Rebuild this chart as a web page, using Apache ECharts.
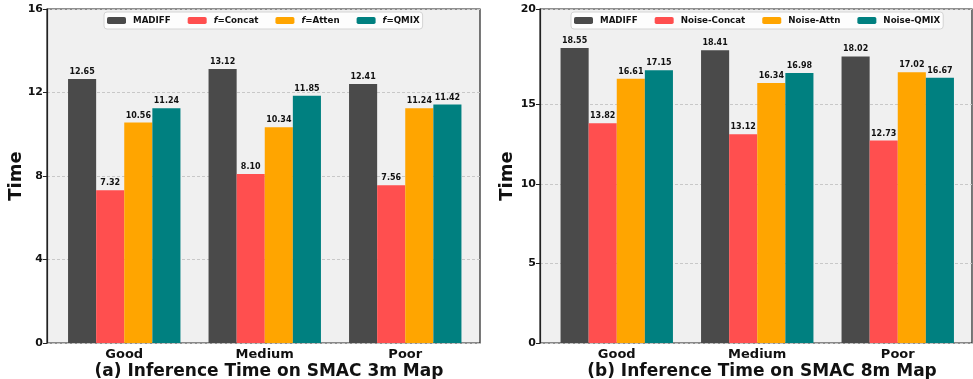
<!DOCTYPE html>
<html><head><meta charset="utf-8">
<script src="https://cdn.jsdelivr.net/npm/echarts@6/dist/echarts.min.js"></script>
<style>html,body{margin:0;padding:0;background:#fff}#c{width:973px;height:379px}</style>
</head><body><div id="c"></div>
<script>
const categories = ['Good', 'Medium', 'Poor'];
const namesA = ['MADIFF', 'f=Concat', 'f=Atten', 'f=QMIX'];
const namesB = ['MADIFF', 'Noise-Concat', 'Noise-Attn', 'Noise-QMIX'];
const a_madiff = [12.65, 13.12, 12.41];
const a_concat = [7.32, 8.10, 7.56];
const a_atten = [10.56, 10.34, 11.24];
const a_qmix = [11.24, 11.85, 11.42];
const b_madiff = [18.55, 18.41, 18.02];
const b_concat = [13.82, 13.12, 12.73];
const b_attn = [16.61, 16.34, 17.02];
const b_qmix = [17.15, 16.98, 16.67];
const yTicksA = [0, 4, 8, 12, 16];
const yLabelsA = ['0', '4', '8', '12', '16'];
const yMaxA = 16;
// right panel: axis runs to 21, the top tick is labelled "20" in the original
const yTicksB = [0, 5, 10, 15, 21];
const yLabelsB = ['0', '5', '10', '15', '20'];
const yMaxB = 21;
const colors = ['#4a4a4a', '#ff4f4f', '#ffa500', '#008080'];
const FONT = 'DejaVu Sans';

const chart = echarts.init(document.getElementById('c'));
const grids = [
  {left: 47, top: 9, width: 433, height: 334, show: true, backgroundColor: '#f0f0f0', borderColor: '#222', borderWidth: 1.2},
  {left: 54, top: 9, width: 421.5, height: 334},
  {left: 540, top: 9, width: 432, height: 334, show: true, backgroundColor: '#f0f0f0', borderColor: '#222', borderWidth: 1.2},
  {left: 546.5, top: 9, width: 421.5, height: 334}
];
function mkSeries(names, datas, gi, suffix) {
  return datas.map((d, i) => ({
    type: 'bar', name: names[i] + (suffix && i === 0 ? ' ' : ''), xAxisIndex: gi, yAxisIndex: gi,
    data: d, barGap: '0%', barCategoryGap: '20%',
    itemStyle: {color: colors[i]},
    label: {show: true, position: 'top', distance: 3, formatter: p => p.value.toFixed(2),
      fontFamily: FONT, fontWeight: 'bold', fontSize: 8, color: '#111'}
  }));
}
const FS = 8.7;
const legendBase = {
  top: 12, itemWidth: 19, itemHeight: 7, itemGap: 17,
  backgroundColor: 'rgba(255,255,255,0.85)', borderColor: '#d4d4d4', borderWidth: 1, borderRadius: 3,
  padding: [4, 3, 4, 3],
  textStyle: {fontFamily: FONT, fontWeight: 'bold', fontSize: FS, color: '#111', padding: [0, 0, 0, 2],
    rich: {i: {fontStyle: 'italic', fontWeight: 'bold', fontFamily: FONT, fontSize: FS, color: '#111'},
           b: {fontWeight: 'bold', fontFamily: FONT, fontSize: FS, color: '#111'}}}
};
function xOuter(gi) {
  return {type: 'value', gridIndex: gi, show: false, min: 0, max: 1};
}
function xInner(gi) {
  return {type: 'category', gridIndex: gi, data: categories,
    axisLine: {show: false}, axisTick: {show: false},
    axisLabel: {fontFamily: FONT, fontWeight: 'bold', fontSize: 13, color: '#111', margin: 5}};
}
function yOuter(gi, ticks, labels, max, gap) {
  return {type: 'value', gridIndex: gi, min: 0, max: max,
    name: 'Time', nameLocation: 'middle', nameGap: gap, nameMoveOverlap: false,
    nameTextStyle: {fontFamily: FONT, fontWeight: 'bold', fontSize: 18, color: '#111'},
    axisLine: {show: true, lineStyle: {color: '#222', width: 1.2}},
    axisTick: {show: true, length: 4, lineStyle: {color: '#222'}, customValues: ticks},
    axisLabel: {fontFamily: FONT, fontWeight: 'bold', fontSize: 11, color: '#111', margin: 4,
      customValues: ticks, formatter: v => labels[ticks.indexOf(v)]},
    splitLine: {show: true, lineStyle: {color: '#c8c8c8', type: [3, 2], width: 1}}};
}
function yInner(gi, max) {
  return {type: 'value', gridIndex: gi, min: 0, max: max, show: false, splitLine: {show: false}};
}
chart.setOption({
  animation: false,
  textStyle: {fontFamily: FONT},
  grid: grids,
  title: [
    {text: '(a) Inference Time on SMAC 3m Map', left: 264, top: 358, textAlign: 'center',
      textStyle: {fontFamily: FONT, fontWeight: 'bold', fontSize: 17, color: '#111'}},
    {text: '(b) Inference Time on SMAC 8m Map', left: 757, top: 358, textAlign: 'center',
      textStyle: {fontFamily: FONT, fontWeight: 'bold', fontSize: 17, color: '#111'}}
  ],
  legend: [
    Object.assign({}, legendBase, {left: 104, data: namesA,
      formatter: n => n.startsWith('f=') ? '{i|f}{b|' + n.slice(1) + '}' : n}),
    Object.assign({}, legendBase, {left: 571, data: namesB.map((n, i) => i === 0 ? n + ' ' : n),
      formatter: n => n.trim()})
  ],
  xAxis: [xOuter(0), xInner(1), xOuter(2), xInner(3)],
  yAxis: [yOuter(0, yTicksA, yLabelsA, yMaxA, 22), yInner(1, yMaxA), yOuter(2, yTicksB, yLabelsB, yMaxB, 24), yInner(3, yMaxB)],
  series: [].concat(
    mkSeries(namesA, [a_madiff, a_concat, a_atten, a_qmix], 1, false),
    mkSeries(namesB, [b_madiff, b_concat, b_attn, b_qmix], 3, true)
  )
});
</script></body></html>
